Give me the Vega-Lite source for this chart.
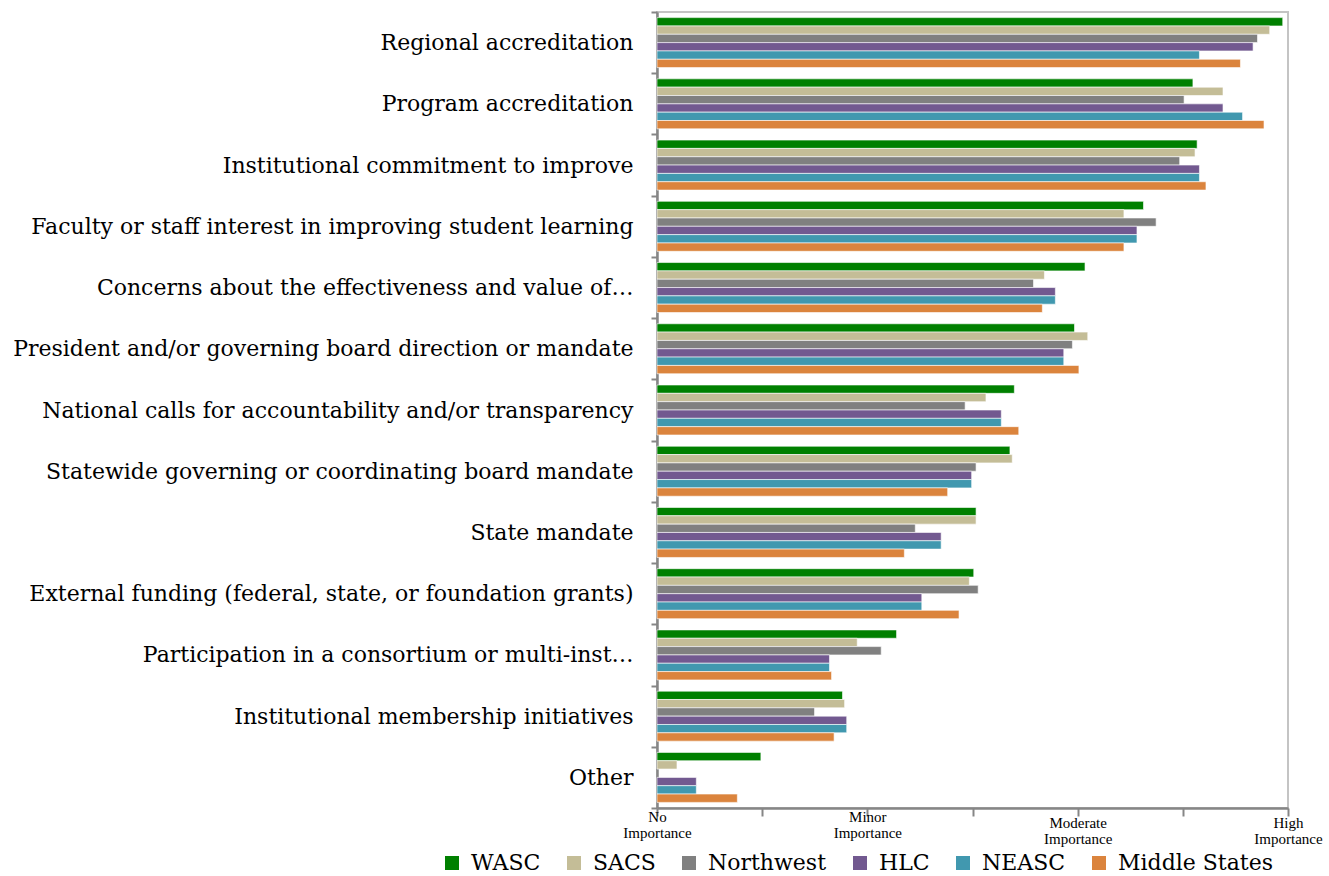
{
  "$schema": "https://vega.github.io/schema/vega-lite/v6.json",
  "autosize": {"type": "none"},
  "padding": {"left": 657, "top": 12, "right": 41, "bottom": 68},
  "width": 631,
  "height": 796,
  "background": "white",
  "config": {
    "view": {"stroke": "#c4c4c4", "strokeWidth": 2},
    "font": "DejaVu Serif"
  },
  "datasets": {
    "rows": [
      {"category": "Regional accreditation", "region": "WASC", "value": 3.975},
      {"category": "Regional accreditation", "region": "SACS", "value": 3.913},
      {"category": "Regional accreditation", "region": "Northwest", "value": 3.855},
      {"category": "Regional accreditation", "region": "HLC", "value": 3.834},
      {"category": "Regional accreditation", "region": "NEASC", "value": 3.579},
      {"category": "Regional accreditation", "region": "Middle States", "value": 3.774},
      {"category": "Program accreditation", "region": "WASC", "value": 3.548},
      {"category": "Program accreditation", "region": "SACS", "value": 3.691},
      {"category": "Program accreditation", "region": "Northwest", "value": 3.506},
      {"category": "Program accreditation", "region": "HLC", "value": 3.691},
      {"category": "Program accreditation", "region": "NEASC", "value": 3.784},
      {"category": "Program accreditation", "region": "Middle States", "value": 3.886},
      {"category": "Institutional commitment to improve", "region": "WASC", "value": 3.568},
      {"category": "Institutional commitment to improve", "region": "SACS", "value": 3.558},
      {"category": "Institutional commitment to improve", "region": "Northwest", "value": 3.485},
      {"category": "Institutional commitment to improve", "region": "HLC", "value": 3.579},
      {"category": "Institutional commitment to improve", "region": "NEASC", "value": 3.579},
      {"category": "Institutional commitment to improve", "region": "Middle States", "value": 3.61},
      {"category": "Faculty or staff interest in improving student learning", "region": "WASC", "value": 3.313},
      {"category": "Faculty or staff interest in improving student learning", "region": "SACS", "value": 3.22},
      {"category": "Faculty or staff interest in improving student learning", "region": "Northwest", "value": 3.373},
      {"category": "Faculty or staff interest in improving student learning", "region": "HLC", "value": 3.282},
      {"category": "Faculty or staff interest in improving student learning", "region": "NEASC", "value": 3.282},
      {"category": "Faculty or staff interest in improving student learning", "region": "Middle States", "value": 3.22},
      {"category": "Concerns about the effectiveness and value of…", "region": "WASC", "value": 3.035},
      {"category": "Concerns about the effectiveness and value of…", "region": "SACS", "value": 2.842},
      {"category": "Concerns about the effectiveness and value of…", "region": "Northwest", "value": 2.79},
      {"category": "Concerns about the effectiveness and value of…", "region": "HLC", "value": 2.894},
      {"category": "Concerns about the effectiveness and value of…", "region": "NEASC", "value": 2.894},
      {"category": "Concerns about the effectiveness and value of…", "region": "Middle States", "value": 2.832},
      {"category": "President and/or governing board direction or mandate", "region": "WASC", "value": 2.985},
      {"category": "President and/or governing board direction or mandate", "region": "SACS", "value": 3.048},
      {"category": "President and/or governing board direction or mandate", "region": "Northwest", "value": 2.975},
      {"category": "President and/or governing board direction or mandate", "region": "HLC", "value": 2.934},
      {"category": "President and/or governing board direction or mandate", "region": "NEASC", "value": 2.934},
      {"category": "President and/or governing board direction or mandate", "region": "Middle States", "value": 3.006},
      {"category": "National calls for accountability and/or transparency", "region": "WASC", "value": 2.699},
      {"category": "National calls for accountability and/or transparency", "region": "SACS", "value": 2.564},
      {"category": "National calls for accountability and/or transparency", "region": "Northwest", "value": 2.465},
      {"category": "National calls for accountability and/or transparency", "region": "HLC", "value": 2.637},
      {"category": "National calls for accountability and/or transparency", "region": "NEASC", "value": 2.637},
      {"category": "National calls for accountability and/or transparency", "region": "Middle States", "value": 2.72},
      {"category": "Statewide governing or coordinating board mandate", "region": "WASC", "value": 2.678},
      {"category": "Statewide governing or coordinating board mandate", "region": "SACS", "value": 2.689},
      {"category": "Statewide governing or coordinating board mandate", "region": "Northwest", "value": 2.517},
      {"category": "Statewide governing or coordinating board mandate", "region": "HLC", "value": 2.496},
      {"category": "Statewide governing or coordinating board mandate", "region": "NEASC", "value": 2.496},
      {"category": "Statewide governing or coordinating board mandate", "region": "Middle States", "value": 2.382},
      {"category": "State mandate", "region": "WASC", "value": 2.517},
      {"category": "State mandate", "region": "SACS", "value": 2.517},
      {"category": "State mandate", "region": "Northwest", "value": 2.228},
      {"category": "State mandate", "region": "HLC", "value": 2.351},
      {"category": "State mandate", "region": "NEASC", "value": 2.351},
      {"category": "State mandate", "region": "Middle States", "value": 2.176},
      {"category": "External funding (federal, state, or foundation grants)", "region": "WASC", "value": 2.506},
      {"category": "External funding (federal, state, or foundation grants)", "region": "SACS", "value": 2.485},
      {"category": "External funding (federal, state, or foundation grants)", "region": "Northwest", "value": 2.527},
      {"category": "External funding (federal, state, or foundation grants)", "region": "HLC", "value": 2.259},
      {"category": "External funding (federal, state, or foundation grants)", "region": "NEASC", "value": 2.259},
      {"category": "External funding (federal, state, or foundation grants)", "region": "Middle States", "value": 2.436},
      {"category": "Participation in a consortium or multi-inst…", "region": "WASC", "value": 2.139},
      {"category": "Participation in a consortium or multi-inst…", "region": "SACS", "value": 1.952},
      {"category": "Participation in a consortium or multi-inst…", "region": "Northwest", "value": 2.066},
      {"category": "Participation in a consortium or multi-inst…", "region": "HLC", "value": 1.82},
      {"category": "Participation in a consortium or multi-inst…", "region": "NEASC", "value": 1.82},
      {"category": "Participation in a consortium or multi-inst…", "region": "Middle States", "value": 1.83},
      {"category": "Institutional membership initiatives", "region": "WASC", "value": 1.882},
      {"category": "Institutional membership initiatives", "region": "SACS", "value": 1.892},
      {"category": "Institutional membership initiatives", "region": "Northwest", "value": 1.749},
      {"category": "Institutional membership initiatives", "region": "HLC", "value": 1.902},
      {"category": "Institutional membership initiatives", "region": "NEASC", "value": 1.902},
      {"category": "Institutional membership initiatives", "region": "Middle States", "value": 1.842},
      {"category": "Other", "region": "WASC", "value": 1.494},
      {"category": "Other", "region": "SACS", "value": 1.095},
      {"category": "Other", "region": "HLC", "value": 1.187},
      {"category": "Other", "region": "NEASC", "value": 1.187},
      {"category": "Other", "region": "Middle States", "value": 1.382}
    ]
  },
  "data": {"name": "rows"},
  "mark": {"type": "bar", "stroke": "white", "strokeWidth": 1, "strokeOpacity": 0.6},
  "encoding": {
    "y": {
      "field": "category",
      "type": "nominal",
      "sort": [
        "Regional accreditation",
        "Program accreditation",
        "Institutional commitment to improve",
        "Faculty or staff interest in improving student learning",
        "Concerns about the effectiveness and value of…",
        "President and/or governing board direction or mandate",
        "National calls for accountability and/or transparency",
        "Statewide governing or coordinating board mandate",
        "State mandate",
        "External funding (federal, state, or foundation grants)",
        "Participation in a consortium or multi-inst…",
        "Institutional membership initiatives",
        "Other"
      ],
      "scale": {"paddingInner": 0, "paddingOuter": 0},
      "axis": {
        "title": null,
        "domainColor": "#868686",
        "domainWidth": 2.5,
        "tickColor": "#868686",
        "tickWidth": 2,
        "tickSize": 6,
        "tickBand": "extent",
        "labelFont": "DejaVu Serif",
        "labelFontSize": 22,
        "labelColor": "#000000",
        "labelPadding": 18,
        "labelLimit": 700
      }
    },
    "yOffset": {
      "field": "region",
      "type": "nominal",
      "sort": ["WASC", "SACS", "Northwest", "HLC", "NEASC", "Middle States"],
      "scale": {"paddingInner": 0, "paddingOuter": 0.675}
    },
    "x": {
      "field": "value",
      "type": "quantitative",
      "scale": {"domain": [1, 4], "nice": false, "zero": false},
      "axis": {
        "title": null,
        "values": [1, 1.5, 2, 2.5, 3, 3.5, 4],
        "grid": false,
        "domainColor": "#868686",
        "domainWidth": 2.5,
        "tickColor": "#868686",
        "tickWidth": 2,
        "tickSize": 8,
        "labelFont": "Liberation Serif",
        "labelFontSize": 15,
        "labelColor": "#000000",
        "labelPadding": {"condition": {"test": "datum.value >= 3", "value": -1}, "value": -7},
        "labelLineHeight": 16,
        "labelFlush": false,
        "labelBound": false,
        "labelOverlap": false,
        "labelExpr": "datum.value == 1 ? ['No', 'Importance'] : datum.value == 2 ? ['Minor', 'Importance'] : datum.value == 3 ? ['Moderate', 'Importance'] : datum.value == 4 ? ['High', 'Importance'] : ''"
      }
    },
    "x2": {"datum": 1},
    "color": {
      "field": "region",
      "type": "nominal",
      "scale": {
        "domain": ["WASC", "SACS", "Northwest", "HLC", "NEASC", "Middle States"],
        "range": ["#008000", "#c4bd97", "#808080", "#725990", "#4198af", "#db843d"]
      },
      "legend": {
        "title": null,
        "orient": "none",
        "direction": "horizontal",
        "legendX": -216,
        "legendY": 840,
        "padding": 0,
        "symbolType": "square",
        "symbolSize": 196,
        "symbolStrokeWidth": 0,
        "symbolOpacity": 1,
        "labelFont": "DejaVu Serif",
        "labelFontSize": 22,
        "labelColor": "#000000",
        "labelOffset": 8,
        "columnPadding": 22,
        "labelLimit": 300
      }
    }
  }
}
